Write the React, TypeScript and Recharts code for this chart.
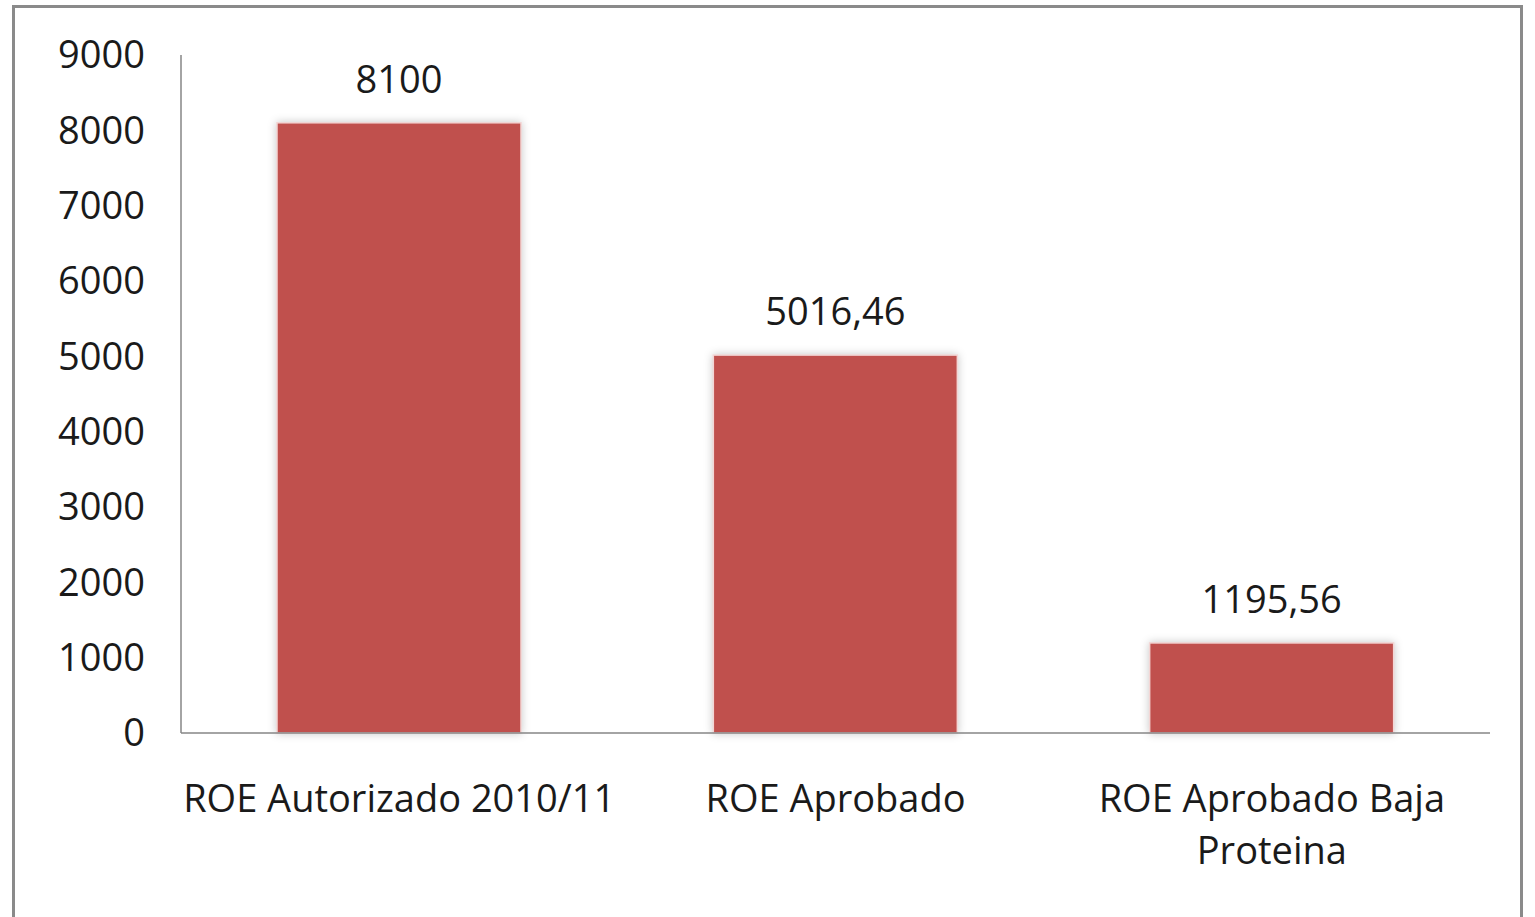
import React from 'react';
import { BarChart, Bar, XAxis, YAxis, LabelList } from 'recharts';

const categories = ['ROE Autorizado 2010/11', 'ROE Aprobado', 'ROE Aprobado Baja Proteina'];
const values = [8100, 5016.46, 1195.56];
const yTicks = [0, 1000, 2000, 3000, 4000, 5000, 6000, 7000, 8000, 9000];

const data = categories.map((name, i) => ({ name, value: values[i] }));

const FONT = '"Open Sans", sans-serif';
const FONT_SIZE = 38;
const AXIS_COLOR = '#868686';
const BAR_COLOR = '#C0504D';
const TEXT_COLOR = '#1a1a1a';
const MAX_CHARS = 22;

const formatValue = (v: any) => String(v).replace('.', ',');

// simple greedy word wrap by character count
const wrapLabel = (label: string) => {
  const lines: string[] = [];
  let current = '';
  label.split(' ').forEach((word) => {
    const next = current ? `${current} ${word}` : word;
    if (next.length > MAX_CHARS && current) {
      lines.push(current);
      current = word;
    } else {
      current = next;
    }
  });
  if (current) lines.push(current);
  return lines;
};

const CategoryTick = ({ x, y, payload }: any) => {
  const lines = wrapLabel(String(payload.value));
  return (
    <text
      x={x}
      y={y}
      textAnchor="middle"
      fontSize={FONT_SIZE}
      fontFamily={FONT}
      fill={TEXT_COLOR}
    >
      {lines.map((line, i) => (
        <tspan key={i} x={x} dy={i === 0 ? 28 : 52}>
          {line}
        </tspan>
      ))}
    </text>
  );
};

const ShadowBar = (props: any) => {
  const { x, y, width, height } = props;
  return (
    <rect
      x={x}
      y={y}
      width={width}
      height={height}
      fill={BAR_COLOR}
      stroke="#f3d6d5"
      strokeWidth={1.5}
      style={{ filter: 'drop-shadow(0 0 4px rgba(0,0,0,0.22))' }}
    />
  );
};

export default function App() {
  return (
    <div style={{ position: 'fixed', left: 0, top: 0, width: 1535, height: 917, background: '#fff', overflow: 'hidden' }}>
      <div
        style={{
          position: 'absolute',
          left: 12,
          top: 5,
          width: 1505,
          height: 940,
          border: '3px solid #8a8a8a',
        }}
      />
      <div style={{ position: 'absolute', left: 0, top: 0 }}>
        <BarChart
          width={1535}
          height={917}
          data={data}
          margin={{ top: 55, right: 45, bottom: 0, left: 0 }}
          barCategoryGap="22%"
        >
          <XAxis
            dataKey="name"
            axisLine={{ stroke: AXIS_COLOR, strokeWidth: 1.5 }}
            tickLine={false}
            tickSize={0}
            tickMargin={51}
            height={184}
            interval={0}
            tick={<CategoryTick />}
          />
          <YAxis
            domain={[0, 9000]}
            ticks={yTicks}
            width={181}
            axisLine={{ stroke: AXIS_COLOR, strokeWidth: 1.5 }}
            tickLine={false}
            tickSize={0}
            tickMargin={36}
            interval={0}
            tick={{ fontSize: FONT_SIZE, fontFamily: FONT, fill: TEXT_COLOR }}
          />
          <Bar dataKey="value" shape={<ShadowBar />} isAnimationActive={false}>
            <LabelList
              dataKey="value"
              position="top"
              offset={30}
              formatter={formatValue}
              style={{ fontSize: FONT_SIZE, fontFamily: FONT, fill: TEXT_COLOR }}
            />
          </Bar>
        </BarChart>
      </div>
    </div>
  );
}
